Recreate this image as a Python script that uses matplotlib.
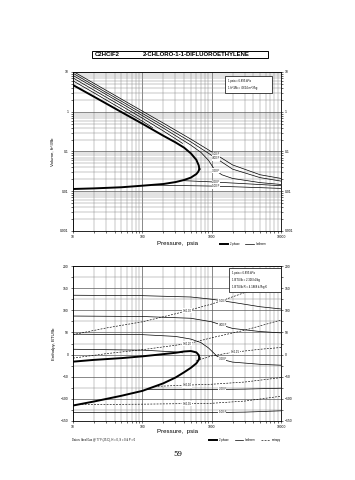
import numpy as np
import matplotlib.pyplot as plt
from matplotlib.lines import Line2D
from matplotlib.patches import Rectangle
from matplotlib.ticker import FuncFormatter, MultipleLocator

plt.rcParams['font.family'] = ['Liberation Sans', 'DejaVu Sans']

# --- graphique du haut : volume en fonction de la pression ---
P_LIQ_V = [10, 20, 50, 100, 200, 300, 400, 500, 600, 640, 665]
V_LIQ = [0.0114, 0.0118, 0.0126, 0.0138, 0.0152, 0.017, 0.0192, 0.022, 0.027, 0.031, 0.036]
P_VAP_V = [665, 650, 600, 500, 400, 300, 200, 100, 50, 20, 10]
V_VAP = [0.036, 0.045, 0.062, 0.09, 0.125, 0.17, 0.25, 0.5, 0.98, 2.4, 4.7]

# une pression répétée = passage vapeur -> liquide (pas de trait entre les deux)
P_ISO_V = {
	"500 F": [10, 20, 50, 100, 200, 500, 1000, 2000, 5000, 10000],
	"400 F": [10, 20, 50, 100, 200, 500, 1000, 2000, 5000, 10000],
	"300 F": [10, 20, 50, 100, 200, 500, 700, 900, 1100, 1400, 2000, 5000, 10000],
	"200 F": [10, 20, 50, 100, 200, 300, 380, 380, 1000, 3000, 10000],
	"100 F": [10, 20, 50, 100, 140, 140, 1000, 3000, 10000],
}
V_ISO = {
	"500 F": [10.4, 5.2, 2.08, 1.04, 0.52, 0.205, 0.098, 0.046, 0.026, 0.021],
	"400 F": [9.3, 4.6, 1.84, 0.91, 0.45, 0.175, 0.08, 0.036, 0.022, 0.018],
	"300 F": [8.2, 4.1, 1.62, 0.8, 0.39, 0.145, 0.095, 0.06, 0.035, 0.026, 0.021, 0.0165, 0.0148],
	"200 F": [7.1, 3.5, 1.4, 0.69, 0.33, 0.21, 0.16, 0.0185, 0.0172, 0.0155, 0.0138],
	"100 F": [6.0, 3.0, 1.18, 0.58, 0.4, 0.0143, 0.0135, 0.0127, 0.0118],
}
V_TICKS = [0.001, 0.01, 0.1, 1, 10]

# --- graphique du bas : enthalpie en fonction de la pression ---
P_VAP_H = [10, 20, 50, 100, 200, 300, 400, 500, 600, 650, 665]
H_VAP = [-16, -12, -8, -4, 1, 4, 7, 8, 5, -1, -8]
P_LIQ_H = [665, 650, 600, 500, 400, 300, 200, 100, 50, 20, 10]
H_LIQ = [-8, -12, -20, -30, -40, -52, -65, -82, -93, -106, -115]

P_ISO_H = {
	"500 F": [10, 100, 500, 1000, 2000, 5000, 10000],
	"400 F": [10, 100, 500, 1000, 1500, 2000, 5000, 10000],
	"300 F": [10, 100, 300, 500, 700, 900, 1200, 1500, 2000, 5000, 10000],
	"200 F": [120, 300, 1000, 3000, 10000],
	"100 F": [10, 100, 1000, 3000, 10000],
}
H_ISO = {
	"500 F": [134, 133, 130, 125, 118, 108, 103],
	"400 F": [87, 86, 82, 74, 65, 59, 52, 49],
	"300 F": [46, 45, 41, 35, 27, 15, -4, -12, -17, -22, -24],
	"200 F": [-79, -79, -79, -78, -76],
	"100 F": [-131, -131, -131, -130, -127],
}
P_VAP200 = [10, 100, 300, 380]
H_VAP200 = [12, 10, 6, 4]

P_ENT = {
	"S=0.30": [10, 30, 100, 300, 1000, 3000, 10000],
	"S=0.20": [10, 30, 100, 300, 500, 1000, 3000, 10000],
	"S=0.15": [600, 800, 1000, 2000, 5000, 10000],
	"S=0.10": [150, 300, 1000, 3000, 10000],
	"S=0.05": [12, 100, 1000, 3000, 10000],
}
H_ENT = {
	"S=0.30": [45, 60, 74, 92, 114, 140, 168],
	"S=0.20": [-8, 2, 11, 21, 26, 38, 55, 78],
	"S=0.15": [-14, -8, -3, 5, 12, 16],
	"S=0.10": [-72, -70, -67, -62, -52],
	"S=0.05": [-113, -112, -110, -105, -94],
}
P_LAB_ENT = {"S=0.30": 445, "S=0.20": 445, "S=0.15": 2200, "S=0.10": 445, "S=0.05": 445}
H_TICKS = [-150, -100, -50, 0, 50, 100, 150, 200]
P_TICKS = [10, 100, 1000, 10000]


def etiquette(ax, xs, ys, x0, texte, logy=False):
	""" Place une petite étiquette sur la courbe à l'abscisse x0 """
	lx = np.log10(xs)
	if logy:
		y0 = 10 ** np.interp(np.log10(x0), lx, np.log10(ys))
	else:
		y0 = np.interp(np.log10(x0), lx, ys)
	ax.text(x0, y0, texte, fontsize=2, ha="center", va="center", zorder=6,
		bbox=dict(facecolor="white", edgecolor="none", pad=0.3))


def tracer_par_morceaux(ax, xs, ys, **kw):
	""" Trace la courbe en la coupant là où la pression se répète """
	debut = 0
	for i in range(1, len(xs)):
		if xs[i] == xs[i - 1]:
			ax.plot(xs[debut:i], ys[debut:i], **kw)
			debut = i
	ax.plot(xs[debut:], ys[debut:], **kw)
	return xs[debut:], ys[debut:]


def preparer_axe(ax):
	ax.set_xscale("log")
	ax.set_xlim(10, 10000)
	ax.set_xticks(P_TICKS)
	ax.xaxis.set_major_formatter(FuncFormatter(lambda v, _: "%g" % v))
	ax.xaxis.set_minor_formatter(FuncFormatter(lambda v, _: ""))
	ax.grid(which="major", color="0.35", lw=0.5)
	ax.grid(which="minor", color="0.55", lw=0.35)
	ax.tick_params(which="both", labelsize=2.4, length=1.5, width=0.4, pad=1.5,
		right=True, labelright=True)
	for s in ax.spines.values():
		s.set_linewidth(0.6)


fig = plt.figure(figsize=(3.55, 4.8), dpi=100)

# titre encadré
fig.patches.append(Rectangle((92 / 355, 1 - 58 / 480), 176 / 355, 7 / 480,
	transform=fig.transFigure, facecolor="white", edgecolor="black", lw=0.7))
fig.text(95 / 355, 1 - 54.5 / 480, "C2HClF2", fontsize=4.3, weight="bold", va="center")
fig.text(143 / 355, 1 - 54.5 / 480, "2-CHLORO-1-1-DIFLUOROETHYLENE", fontsize=4.3,
	weight="bold", va="center")

# --- volume ---
ax1 = fig.add_axes([73 / 355, 1 - 231 / 480, 208 / 355, 159 / 480])
ax1.set_yscale("log")
preparer_axe(ax1)
ax1.set_ylim(0.001, 10)
ax1.set_yticks(V_TICKS)
ax1.yaxis.set_major_formatter(FuncFormatter(lambda v, _: "%g" % v))
ax1.yaxis.set_minor_formatter(FuncFormatter(lambda v, _: ""))
ax1.plot(P_LIQ_V, V_LIQ, color="black", lw=1.4, zorder=4)
ax1.plot(P_VAP_V, V_VAP, color="black", lw=1.4, zorder=4)
for nom in P_ISO_V:
	fx, fy = tracer_par_morceaux(ax1, P_ISO_V[nom], V_ISO[nom], color="black", lw=0.5, zorder=3)
	etiquette(ax1, fx, fy, 1150, nom, logy=True)
ax1.set_ylabel("Volume, ft^3/lb", fontsize=3.2, labelpad=4)
ax1.add_patch(Rectangle((0.73, 0.868), 0.227, 0.107, transform=ax1.transAxes,
	facecolor="white", edgecolor="black", lw=0.5, zorder=7))
ax1.text(0.745, 0.945, "1 psia = 6.895 kPa", transform=ax1.transAxes, fontsize=2,
	va="center", zorder=8)
ax1.text(0.745, 0.9, "1 ft^3/lb = .0624 m^3/kg", transform=ax1.transAxes, fontsize=2,
	va="center", zorder=8)
fig.text(0.5, 1 - 244 / 480, "Pressure,  psia", fontsize=4.4, ha="center", va="center")
fig.legend([Line2D([], [], color="black", lw=1.4), Line2D([], [], color="black", lw=0.5)],
	["2 phase", "Isotherm"], loc="center", bbox_to_anchor=(0.685, 1 - 244 / 480),
	ncol=2, frameon=False, fontsize=2, handlelength=3, columnspacing=2)

# --- enthalpie ---
ax2 = fig.add_axes([73 / 355, 1 - 421 / 480, 208 / 355, 155 / 480])
preparer_axe(ax2)
ax2.set_ylim(-150, 200)
ax2.set_yticks(H_TICKS)
ax2.yaxis.set_minor_locator(MultipleLocator(25))
ax2.plot(P_VAP_H, H_VAP, color="black", lw=1.4, zorder=4)
ax2.plot(P_LIQ_H, H_LIQ, color="black", lw=1.4, zorder=4)
for nom in P_ISO_H:
	ax2.plot(P_ISO_H[nom], H_ISO[nom], color="black", lw=0.5, zorder=3)
	etiquette(ax2, P_ISO_H[nom], H_ISO[nom], 1420, nom)
ax2.plot(P_VAP200, H_VAP200, color="black", lw=0.5, zorder=3)
for nom in P_ENT:
	ax2.plot(P_ENT[nom], H_ENT[nom], color="black", lw=0.45, ls=(0, (3, 2)), zorder=3)
	etiquette(ax2, P_ENT[nom], H_ENT[nom], P_LAB_ENT[nom], nom)
ax2.set_ylabel("Enthalpy, BTU/lb", fontsize=3.2, labelpad=4)
ax2.add_patch(Rectangle((0.75, 0.832), 0.25, 0.155, transform=ax2.transAxes,
	facecolor="white", edgecolor="black", lw=0.5, zorder=7))
for i, ligne in enumerate(["1 psia = 6.895 kPa", "1 BTU/lb = 2.326 kJ/kg",
		"1 BTU/lb R = 4.1868 kJ/kg K"]):
	ax2.text(0.765, 0.955 - i * 0.045, ligne, transform=ax2.transAxes, fontsize=2,
		va="center", zorder=8)
fig.text(0.5, 1 - 431 / 480, "Pressure,  psia", fontsize=4.4, ha="center", va="center")
fig.text(72 / 355, 1 - 440 / 480, "Datum: Ideal Gas @ 77 F (25 C), H = 0, S = 0 & P = 0",
	fontsize=1.9, va="center")
fig.legend([Line2D([], [], color="black", lw=1.4), Line2D([], [], color="black", lw=0.5),
	Line2D([], [], color="black", lw=0.45, ls=(0, (3, 2)))],
	["2 phase", "Isotherm", "entropy"], loc="center", bbox_to_anchor=(0.69, 1 - 440 / 480),
	ncol=3, frameon=False, fontsize=2, handlelength=3, columnspacing=2)

fig.text(0.5, 1 - 454 / 480, "59", fontsize=5, ha="center", va="center", family="DejaVu Serif")

fig.savefig("out.png", dpi=100)
